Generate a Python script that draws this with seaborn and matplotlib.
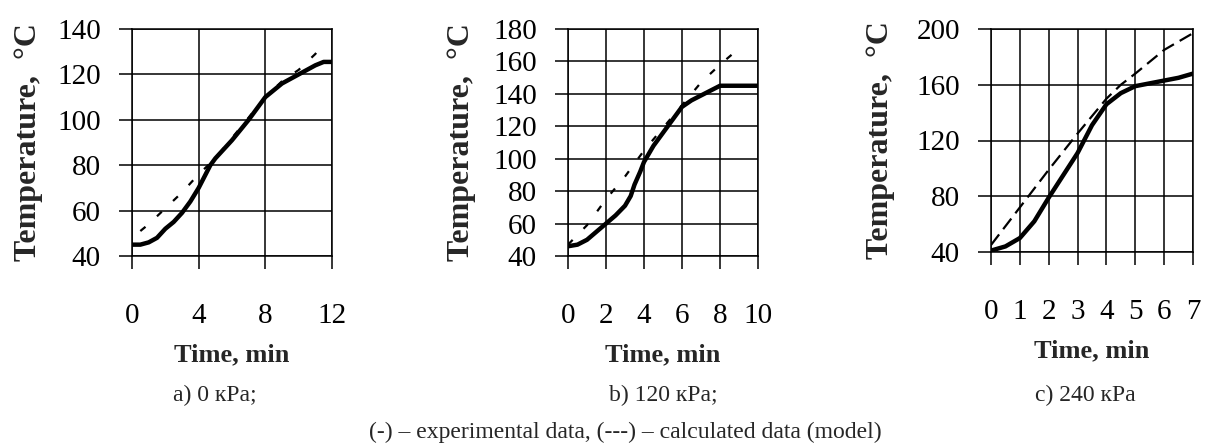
import numpy as np
import pandas as pd
import matplotlib
matplotlib.use("Agg")
import matplotlib.pyplot as plt
import seaborn as sns

# ---- data ----
# a) 0 kPa
a_exp_t = [0, 0.5, 1, 1.5, 2, 2.5, 3, 3.5, 4, 4.7, 5, 6, 7, 8, 9, 10, 11, 11.5, 12]
a_exp_T = [45, 45, 46, 48, 52, 55, 59, 64, 70, 80, 83, 91, 100, 110, 116, 120, 124, 125.5, 125.5]
a_mod_t = [0.5, 1, 2, 3, 4, 5, 6, 7, 8, 9, 10, 11, 11.5]
a_mod_T = [51, 54, 61, 68, 76, 83, 92, 101, 110, 117, 122, 129, 134]

# b) 120 kPa
b_exp_t = [0, 0.5, 1, 1.5, 2, 2.5, 3, 3.3, 3.5, 3.8, 4, 4.5, 5, 5.5, 6, 6.5, 7, 7.5, 8, 9, 10]
b_exp_T = [46, 47, 50, 55, 60, 65, 71, 77, 84, 92, 98, 108, 116, 124, 132, 136, 139, 142, 145, 145, 145]
b_mod_t = [0, 1, 2, 3, 4, 5, 6, 7, 8, 9, 9.2]
b_mod_T = [47, 59, 75, 89, 105, 119, 133, 147, 158, 168, 170]

# c) 240 kPa
c_exp_t = [0, 0.5, 1, 1.5, 2, 2.5, 3, 3.5, 4, 4.5, 5, 5.5, 6, 6.5, 7]
c_exp_T = [41, 44, 50, 62, 79, 95, 111, 131, 146, 154, 159, 161, 163, 165, 168]
c_mod_t = [0, 1, 2, 3, 4, 4.5, 5, 6, 7]
c_mod_T = [45, 72, 99, 125, 150, 160, 168, 185, 197]

xticks_list = [[0, 4, 8, 12], [0, 2, 4, 6, 8, 10], [0, 1, 2, 3, 4, 5, 6, 7]]
yticks_list = [[40, 60, 80, 100, 120, 140],
               [40, 60, 80, 100, 120, 140, 160, 180],
               [40, 80, 120, 160, 200]]
xlims = [(0, 12), (0, 10), (0, 7)]
ylims = [(40, 140), (40, 180), (40, 200)]
captions = ["a) 0 кPa;", "b) 120 кPa;", "c) 240 кPa"]
footnote = "(-) – experimental data, (---) – calculated data (model)"
xlabel = "Time, min"
ylabel = "Temperature,  °C"

sns.set_theme(style="white")
plt.rcParams['font.family'] = ['Liberation Serif', 'DejaVu Serif']

fig = plt.figure(figsize=(12.06, 4.47), dpi=100)
W, H = 1206, 447
boxes = [(132, 332, 29, 256), (568, 758, 29, 256), (991, 1193, 29, 252)]

datasets = [
    (a_exp_t, a_exp_T, a_mod_t, a_mod_T),
    (b_exp_t, b_exp_T, b_mod_t, b_mod_T),
    (c_exp_t, c_exp_T, c_mod_t, c_mod_T),
]
dash_styles = [(3, 7), (3, 7), (6, 3)]
ylabel_pads = [10, 12, 15]
xlabel_pads = [11, 11, 11]

for i, (box, data) in enumerate(zip(boxes, datasets)):
    l, r, t, b = box
    ax = fig.add_axes([l / W, 1 - b / H, (r - l) / W, (b - t) / H])
    et, eT, mt, mT = data
    df_e = pd.DataFrame({"t": et, "T": eT})
    df_m = pd.DataFrame({"t": mt, "T": mT})
    sns.lineplot(data=df_m, x="t", y="T", ax=ax, color="black", lw=1.6,
                 zorder=3).lines[-1].set_dashes(dash_styles[i])
    sns.lineplot(data=df_e, x="t", y="T", ax=ax, color="black", lw=3.2, zorder=4)
    ax.set_xlim(*xlims[i])
    ax.set_ylim(*ylims[i])
    ax.set_xticks(xticks_list[i])
    ax.set_yticks(yticks_list[i])
    ax.grid(True, color="black", lw=1.1)
    for s in ax.spines.values():
        s.set_visible(True)
        s.set_color("black")
        s.set_linewidth(1.1)
    ax.tick_params(axis="both", direction="out", length=9.5, width=1.1,
                   color="black", labelsize=21, labelcolor="black",
                   bottom=True, left=True)
    ax.tick_params(axis="x", pad=24)
    ax.tick_params(axis="y", pad=13)
    ax.set_xlabel(xlabel, fontsize=19, fontweight="bold", labelpad=xlabel_pads[i])
    ax.set_ylabel(ylabel, fontsize=23, fontweight="bold", labelpad=ylabel_pads[i])
    ax.set_facecolor("white")

cap_x = [215, 663, 1085]
for x, c in zip(cap_x, captions):
    fig.text(x / W, 1 - 395 / H, c, ha="center", va="center", fontsize=17)
fig.text(625 / W, 1 - 432 / H, footnote, ha="center", va="center", fontsize=17)

fig.savefig("out.png", dpi=100, facecolor="white")
